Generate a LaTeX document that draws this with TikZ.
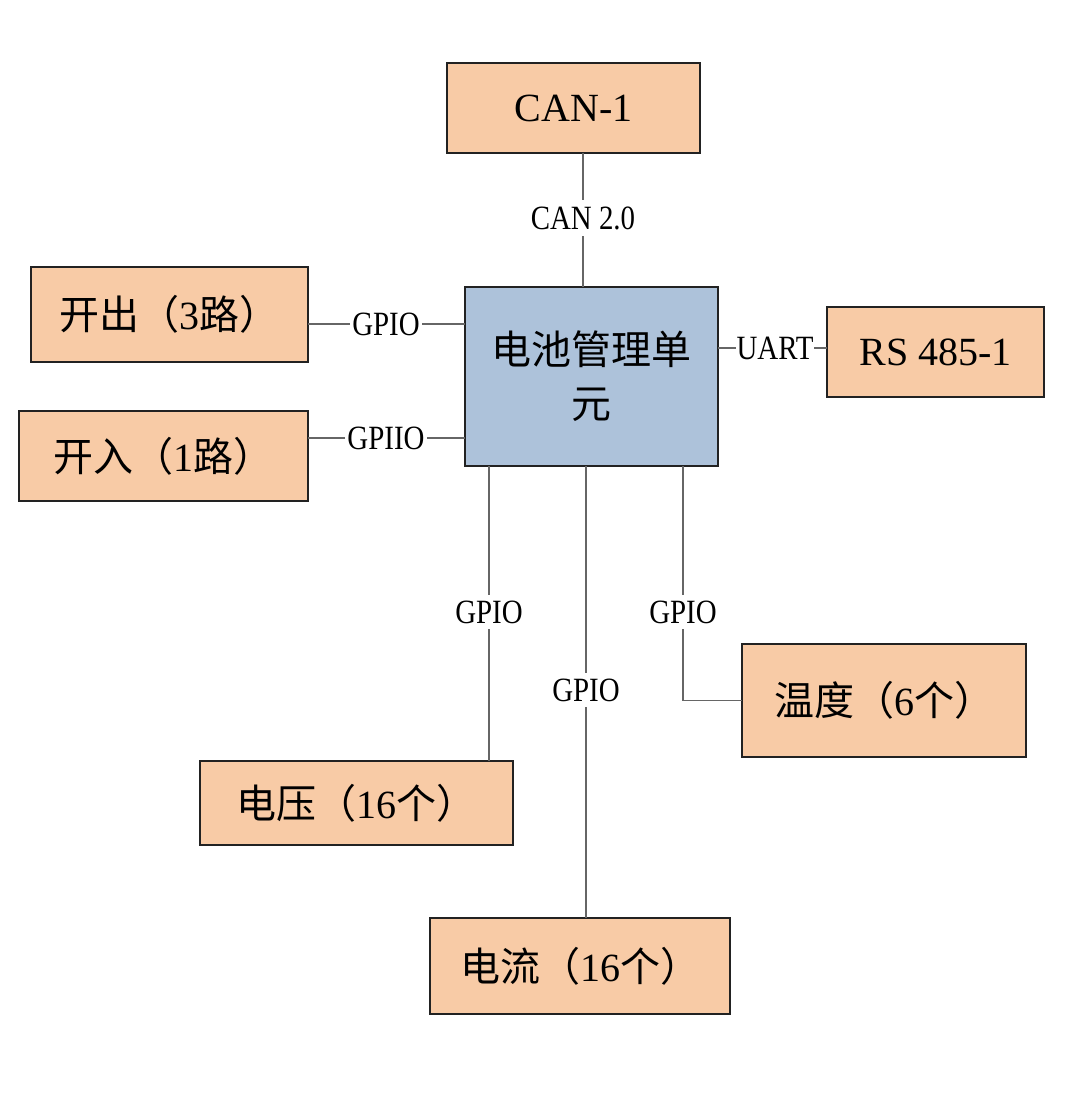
\documentclass[tikz,border=0pt]{standalone}
\usepackage{fontspec}
\setmainfont{Liberation Serif}
\newfontfamily\cjk{Noto Sans CJK SC}
\newfontfamily\lbl[FakeStretch=0.85]{Liberation Serif}
\definecolor{boxorange}{HTML}{F8CBA6}
\definecolor{boxblue}{HTML}{ADC2DA}
\definecolor{edgec}{HTML}{222222}
\definecolor{linec}{HTML}{666666}
\begin{document}
\begin{tikzpicture}[x=1pt,y=-1pt,
  obox/.style={draw=edgec,line width=2.2pt,fill=boxorange,inner sep=0pt,outer sep=0pt,
    font=\fontsize{40}{48}\selectfont},
  bbox/.style={draw=edgec,line width=2.2pt,fill=boxblue,inner sep=0pt,outer sep=0pt,
    align=center,font=\fontsize{40}{54}\selectfont},
  conn/.style={draw=linec,line width=1.4pt},
  lab/.style={fill=white,inner xsep=2pt,inner ysep=6pt,font=\lbl\fontsize{34}{40}\selectfont}]
\useasboundingbox (0,0) rectangle (1080,1102);
\fill[white] (0,0) rectangle (1080,1102);
% nodes
\node[bbox,minimum width=253pt,minimum height=179pt] (bms) at (591.5,376.5) {{\cjk 电池管理单}\\{\cjk 元}};
\node[obox,minimum width=253pt,minimum height=90pt] (can) at (573.5,108) {CAN-1};
\node[obox,minimum width=277pt,minimum height=95pt] (kc) at (169.5,314.5) {{\cjk 开出（}3{\cjk 路）}};
\node[obox,minimum width=289pt,minimum height=90pt] (kr) at (163.5,456) {{\cjk 开入（}1{\cjk 路）}};
\node[obox,minimum width=217pt,minimum height=90pt] (rs) at (935.5,352) {RS 485-1};
\node[obox,minimum width=284pt,minimum height=113pt] (wd) at (884,700.5) {{\cjk 温度（}6{\cjk 个）}};
\node[obox,minimum width=313pt,minimum height=84pt] (dy) at (356.5,803) {{\cjk 电压（}16{\cjk 个）}};
\node[obox,minimum width=300pt,minimum height=96pt] (dl) at (580,966) {{\cjk 电流（}16{\cjk 个）}};
% helper coordinates
\coordinate (xcan) at (583,0);
\coordinate (ykc) at (0,324);
\coordinate (ykr) at (0,438);
\coordinate (yrs) at (0,348);
\coordinate (xdy) at (489,0);
\coordinate (xdl) at (586,0);
\coordinate (xwd) at (683,0);
% connectors
\draw[conn] (can.south -| xcan) -- (bms.north -| xcan);
\draw[conn] (kc.east |- ykc) -- (bms.west |- ykc);
\draw[conn] (kr.east |- ykr) -- (bms.west |- ykr);
\draw[conn] (bms.east |- yrs) -- (rs.west |- yrs);
\draw[conn] (bms.south -| xdy) -- (dy.north -| xdy);
\draw[conn] (bms.south -| xdl) -- (dl.north -| xdl);
\draw[conn] (bms.south -| xwd) |- (wd.west);
% labels
\node[lab] (l1) at (583,218) {CAN 2.0};
\node[lab] (l2) at (386,324) {GPIO};
\node[lab] (l3) at (386,438) {GPIIO};
\node[lab,inner xsep=1pt] (l4) at (775,348) {UART};
\node[lab] (l5) at (489,612) {GPIO};
\node[lab] (l6) at (586,690) {GPIO};
\node[lab] (l7) at (683,612) {GPIO};
\end{tikzpicture}
\end{document}
